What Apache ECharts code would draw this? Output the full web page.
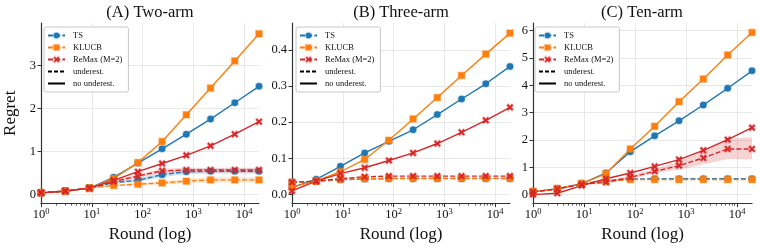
<!DOCTYPE html>
<html>
<head>
<meta charset="utf-8">
<script src="https://cdn.jsdelivr.net/npm/echarts@6/dist/echarts.min.js"></script>
<style>
  html, body { margin: 0; padding: 0; background: #fff; }
  #chart { width: 760px; height: 248px; }
</style>
</head>
<body>
<div id="chart"></div>
<script>
// rounds (x), powers of 3
const rounds = [1, 3, 9, 27, 81, 243, 729, 2187, 6561, 19683];
const xTicks = [1, 10, 100, 1000, 10000];
const panelTitles = ['(A) Two-arm', '(B) Three-arm', '(C) Ten-arm'];
const legendNames = ['TS', 'KLUCB', 'ReMax (M=2)', 'underest.', 'no underest.'];

// (A) Two-arm
const aTsSolid = [0.04, 0.08, 0.15, 0.40, 0.73, 1.06, 1.40, 1.75, 2.13, 2.51];
const aKlSolid = [0.04, 0.08, 0.15, 0.37, 0.74, 1.23, 1.85, 2.47, 3.10, 3.73];
const aRmSolid = [0.04, 0.08, 0.15, 0.33, 0.53, 0.72, 0.91, 1.13, 1.40, 1.69];
const aTsDash = [0.04, 0.08, 0.15, 0.28, 0.33, 0.46, 0.53, 0.54, 0.54, 0.54];
const aKlDash = [0.04, 0.08, 0.15, 0.21, 0.24, 0.27, 0.31, 0.34, 0.34, 0.34];
const aRmDash = [0.04, 0.08, 0.15, 0.30, 0.43, 0.55, 0.57, 0.57, 0.57, 0.57];
const aTsLo = [0.03, 0.07, 0.13, 0.25, 0.29, 0.40, 0.47, 0.48, 0.48, 0.48];
const aTsHi = [0.05, 0.09, 0.17, 0.31, 0.37, 0.52, 0.59, 0.60, 0.60, 0.60];
const aKlLo = [0.03, 0.07, 0.13, 0.19, 0.21, 0.23, 0.27, 0.28, 0.28, 0.28];
const aKlHi = [0.05, 0.09, 0.17, 0.23, 0.27, 0.31, 0.36, 0.40, 0.40, 0.40];
const aRmLo = [0.03, 0.07, 0.13, 0.27, 0.39, 0.50, 0.51, 0.51, 0.51, 0.51];
const aRmHi = [0.05, 0.09, 0.17, 0.33, 0.47, 0.60, 0.62, 0.62, 0.62, 0.62];

// (B) Three-arm
const bTsSolid = [0.020, 0.042, 0.078, 0.115, 0.147, 0.179, 0.221, 0.264, 0.306, 0.354];
const bKlSolid = [0.020, 0.038, 0.063, 0.097, 0.150, 0.209, 0.268, 0.329, 0.388, 0.446];
const bRmSolid = [0.010, 0.037, 0.058, 0.074, 0.094, 0.115, 0.141, 0.172, 0.205, 0.241];
const bTsDash = [0.034, 0.037, 0.041, 0.043, 0.044, 0.044, 0.044, 0.044, 0.044, 0.044];
const bKlDash = [0.034, 0.037, 0.042, 0.044, 0.045, 0.045, 0.045, 0.045, 0.045, 0.045];
const bRmDash = [0.034, 0.037, 0.044, 0.049, 0.051, 0.051, 0.051, 0.051, 0.051, 0.051];

// (C) Ten-arm
const cTsSolid = [0.10, 0.21, 0.40, 0.79, 1.57, 2.15, 2.70, 3.28, 3.89, 4.53];
const cKlSolid = [0.10, 0.21, 0.40, 0.77, 1.67, 2.50, 3.40, 4.23, 5.11, 5.93];
const cRmSolid = [0.00, 0.05, 0.33, 0.58, 0.79, 1.03, 1.28, 1.62, 2.01, 2.45];
const cTsDash = [0.10, 0.21, 0.40, 0.51, 0.57, 0.58, 0.58, 0.58, 0.58, 0.58];
const cKlDash = [0.10, 0.21, 0.39, 0.50, 0.55, 0.55, 0.55, 0.55, 0.55, 0.55];
const cRmDash = [0.10, 0.21, 0.38, 0.45, 0.63, 0.85, 1.06, 1.34, 1.67, 1.67];
const cRmLo = [0.08, 0.19, 0.35, 0.40, 0.56, 0.78, 0.92, 1.10, 1.30, 1.28];
const cRmHi = [0.12, 0.23, 0.41, 0.50, 0.70, 0.93, 1.22, 1.60, 2.05, 2.10];

const SERIF = '"Liberation Serif", "Times New Roman", serif';
const colors = { ts: '#1f77b4', kl: '#ff7f0e', rm: '#d62728' };
const halos = { ts: 'rgba(31,119,180,0.3)', kl: 'rgba(255,127,14,0.3)', rm: 'rgba(214,39,40,0.3)' };
const xMark = 'path://M2,0L5,3L8,0L10,2L7,5L10,8L8,10L5,7L2,10L0,8L3,5L0,2Z';
const symbols = { ts: 'circle', kl: 'rect', rm: xMark };
const names = { ts: 'TS', kl: 'KLUCB', rm: 'ReMax (M=2)' };
const DASH = [5, 2.2];

const panels = [
    {
        grid: { left: 41, top: 23, width: 218, height: 181 },
        yMin: -0.21, yMax: 3.98, yTicks: [0, 1, 2, 3], dec: 0,
        legendLeft: 44, titleX: 150,
        lines: { ts: [aTsDash, aTsSolid], kl: [aKlDash, aKlSolid], rm: [aRmDash, aRmSolid] },
        bands: [['ts', aTsLo, aTsHi], ['kl', aKlLo, aKlHi], ['rm', aRmLo, aRmHi]]
    },
    {
        grid: { left: 292, top: 23, width: 218, height: 181 },
        yMin: -0.025, yMax: 0.474, yTicks: [0, 0.1, 0.2, 0.3, 0.4], dec: 1,
        legendLeft: 296, titleX: 401,
        lines: { ts: [bTsDash, bTsSolid], kl: [bKlDash, bKlSolid], rm: [bRmDash, bRmSolid] },
        bands: []
    },
    {
        grid: { left: 533, top: 23, width: 219, height: 181 },
        yMin: -0.33, yMax: 6.28, yTicks: [0, 1, 2, 3, 4, 5, 6], dec: 0,
        legendLeft: 535, titleX: 642,
        lines: { ts: [cTsDash, cTsSolid], kl: [cKlDash, cKlSolid], rm: [cRmDash, cRmSolid] },
        bands: [['rm', cRmLo, cRmHi]]
    }
];

// minor ticks of the log axis: 2..9 x 10^n
const minorTicks = [];
for (let e = 0; e <= 4; e++) {
    for (let m = 2; m <= 9; m++) {
        const v = m * Math.pow(10, e);
        if (v <= 19683) minorTicks.push(v);
    }
}

const axisColor = '#333';
const grids = [], xAxes = [], yAxes = [], series = [], legends = [], graphics = [];

// legend entries; the two style entries show only a line
const legendData = legendNames.map(n =>
    (n === 'underest.' || n === 'no underest.') ? { name: n, itemStyle: { opacity: 0 } } : { name: n }
);

panels.forEach((p, gi) => {
    grids.push(p.grid);

    xAxes.push({
        type: 'log', logBase: 10, gridIndex: gi, position: 'bottom',
        min: 1, max: 19683,
        name: 'Round (log)', nameLocation: 'middle', nameGap: 19,
        nameTextStyle: { fontFamily: SERIF, fontSize: 17, color: '#111' },
        axisLine: { show: true, onZero: false, lineStyle: { color: axisColor, width: 1.2 } },
        axisTick: { show: true, length: 3.5, customValues: xTicks, lineStyle: { color: axisColor, width: 1 } },
        axisLabel: {
            customValues: xTicks, margin: 4, color: '#111',
            formatter: v => '{b|10}{s|' + Math.round(Math.log10(v)) + '}',
            rich: {
                b: { fontFamily: SERIF, fontSize: 12.5, color: '#111' },
                s: { fontFamily: SERIF, fontSize: 8.5, color: '#111', verticalAlign: 'top', padding: [0, 0, 5, 0] }
            }
        },
        splitLine: { show: true, lineStyle: { color: '#e8e8e8', width: 1 } }
    });

    yAxes.push({
        type: 'value', gridIndex: gi, min: p.yMin, max: p.yMax,
        name: gi === 0 ? 'Regret' : '', nameLocation: 'middle', nameGap: 22, nameRotate: 90,
        nameTextStyle: { fontFamily: SERIF, fontSize: 17, color: '#111' },
        axisLine: { show: true, lineStyle: { color: axisColor, width: 1.2 } },
        axisTick: { show: true, length: 3.5, customValues: p.yTicks, lineStyle: { color: axisColor, width: 1 } },
        axisLabel: {
            customValues: p.yTicks, margin: 5, color: '#111',
            fontFamily: SERIF, fontSize: 12.5,
            formatter: v => v.toFixed(p.dec)
        },
        splitLine: { show: true, lineStyle: { color: '#e8e8e8', width: 1 } }
    });

    // confidence bands
    p.bands.forEach(([key, lo, hi]) => {
        series.push({
            type: 'custom', name: '_band', xAxisIndex: gi, yAxisIndex: gi,
            silent: true, z: 1,
            data: [[rounds[0], lo[0]]],
            renderItem: (params, api) => {
                const top = rounds.map((r, i) => api.coord([r, hi[i]]));
                const bot = rounds.map((r, i) => api.coord([r, lo[i]])).reverse();
                return {
                    type: 'polygon',
                    shape: { points: top.concat(bot) },
                    style: { fill: colors[key], opacity: 0.2 }
                };
            }
        });
    });

    ['ts', 'kl', 'rm'].forEach(key => {
        p.lines[key].forEach((vals, j) => {
            series.push({
                type: 'line', name: names[key], xAxisIndex: gi, yAxisIndex: gi,
                data: rounds.map((r, i) => [r, vals[i]]),
                symbol: symbols[key], symbolSize: 6.5,
                showSymbol: true, z: 3,
                lineStyle: { color: colors[key], width: 1.4, type: j === 0 ? DASH : 'solid' },
                itemStyle: { color: colors[key], borderColor: halos[key], borderWidth: 1.6 },
                emphasis: { disabled: true }
            });
        });
    });

    legends.push({
        left: p.legendLeft, top: 27, orient: 'vertical',
        data: legendData, selectedMode: false,
        itemWidth: 17, itemHeight: 7, itemGap: 3,
        padding: [4, 6, 4, 3],
        borderColor: '#c8c8c8', borderWidth: 1, borderRadius: 2,
        backgroundColor: '#ffffff',
        textStyle: { fontFamily: SERIF, fontSize: 8.5, color: '#111', lineHeight: 8, padding: [0, 0, 0, 3] }
    });

    graphics.push({
        type: 'text', x: p.titleX, y: 13,
        style: {
            text: panelTitles[gi], fill: '#111',
            font: '16.5px ' + SERIF,
            textAlign: 'center', textVerticalAlign: 'middle'
        }
    });
});

// minor tick axes (no line, no labels)
panels.forEach((p, gi) => {
    xAxes.push({
        type: 'log', logBase: 10, gridIndex: gi, position: 'bottom', offset: 0,
        min: 1, max: 19683,
        axisLine: { show: false, onZero: false },
        axisTick: { show: true, length: 2, customValues: minorTicks, lineStyle: { color: axisColor, width: 0.8 } },
        axisLabel: { show: false },
        splitLine: { show: false }
    });
});

// legend-only entries for the line styles
series.push({
    type: 'line', name: 'underest.', data: [], symbol: 'none',
    lineStyle: { color: '#000', width: 1.4, type: [4, 2] }, itemStyle: { color: '#000' }
});
series.push({
    type: 'line', name: 'no underest.', data: [], symbol: 'none',
    lineStyle: { color: '#000', width: 1.4, type: 'solid' }, itemStyle: { color: '#000' }
});

const chart = echarts.init(document.getElementById('chart'), null, { renderer: 'canvas' });
chart.setOption({
    animation: false,
    backgroundColor: '#fff',
    grid: grids,
    xAxis: xAxes,
    yAxis: yAxes,
    legend: legends,
    graphic: graphics,
    series: series
});
</script>
</body>
</html>
